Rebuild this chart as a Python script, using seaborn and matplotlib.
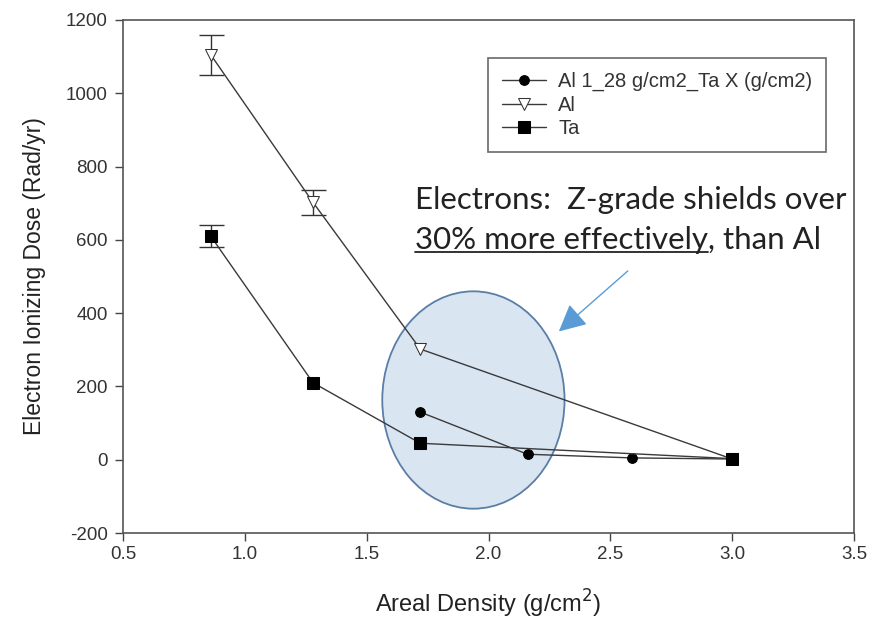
import matplotlib
matplotlib.use("Agg")
import matplotlib.pyplot as plt
import seaborn as sns
import pandas as pd
from matplotlib.patches import Ellipse

# data
mixed_x = [1.72, 2.16, 2.59, 3.0]
mixed_y = [130, 15, 5, 2]
al_x = [0.86, 1.28, 1.72, 3.0]
al_y = [1105, 702, 302, 2]
ta_x = [0.86, 1.28, 1.72, 3.0]
ta_y = [610, 210, 45, 3]
# error bars only shown on the thinnest shields
err_x = [0.86, 1.28, 0.86]
err_y = [1105, 702, 610]
err_v = [55, 35, 30]

sns.set_theme(style="white")
plt.rcParams["font.family"] = ["Liberation Sans", "DejaVu Sans"]
plt.rcParams["axes.unicode_minus"] = False

fig, ax = plt.subplots(figsize=(8.85, 6.22), dpi=100)
fig.subplots_adjust(left=0.139, right=0.965, top=0.968, bottom=0.143)

# ellipse highlight behind the data
ell = Ellipse((1.938, 163), 0.748, 593, facecolor="#dae5f2", edgecolor="#5a7ea6",
              linewidth=1.3, zorder=1)
ax.add_patch(ell)

line_col = "#3a3a3a"
df_mix = pd.DataFrame({"x": mixed_x, "y": mixed_y})
df_al = pd.DataFrame({"x": al_x, "y": al_y})
df_ta = pd.DataFrame({"x": ta_x, "y": ta_y})

sns.lineplot(data=df_mix, x="x", y="y", ax=ax, color=line_col, linewidth=1,
             marker="o", markersize=7, markerfacecolor="black", markeredgecolor="black",
             label="Al 1_28 g/cm2_Ta X (g/cm2)", zorder=3)
sns.lineplot(data=df_al, x="x", y="y", ax=ax, color=line_col, linewidth=1,
             marker="v", markersize=9, markerfacecolor="white", markeredgecolor="#333333",
             label="Al", zorder=3)
sns.lineplot(data=df_ta, x="x", y="y", ax=ax, color=line_col, linewidth=1,
             marker="s", markersize=8, markerfacecolor="black", markeredgecolor="black",
             label="Ta", zorder=3)

ax.errorbar(err_x, err_y, yerr=err_v, fmt="none", ecolor="#333333", elinewidth=1,
            capsize=9, capthick=1, zorder=2)

ax.set_xlim(0.5, 3.5)
ax.set_ylim(-200, 1200)
ax.set_xticks([0.5, 1.0, 1.5, 2.0, 2.5, 3.0, 3.5])
ax.set_xticklabels(["0.5", "1.0", "1.5", "2.0", "2.5", "3.0", "3.5"])
ax.set_yticks(range(-200, 1201, 200))
ax.tick_params(axis="both", direction="out", length=6, width=1, color="#444444",
               labelsize=13.5, labelcolor="#333333", left=True, bottom=True)
ax.tick_params(axis="y", pad=5)
for sp in ax.spines.values():
    sp.set_color("#555555")
    sp.set_linewidth(1.2)

ax.set_xlabel("Areal Density (g/cm$^2$)", fontsize=17, color="#222222", labelpad=18)
ax.set_ylabel("Electron Ionizing Dose (Rad/yr)", fontsize=16.5, color="#222222", labelpad=14)

leg = ax.legend(loc="upper right", bbox_to_anchor=(0.962, 0.926), fontsize=14.5,
                frameon=True, fancybox=False, edgecolor="#444444", handlelength=2.2,
                borderpad=0.7, labelspacing=0.22, handletextpad=0.6, borderaxespad=0)
leg.get_frame().set_linewidth(1.2)
for t in leg.get_texts():
    t.set_color("#333333")

# annotation text with underlined part
ann_font = ["Lato", "DejaVu Sans"]
ann_size = 22.5
ax.text(0.399, 0.649, "Electrons:  Z-grade shields over", transform=ax.transAxes,
        fontsize=ann_size, family=ann_font, color="#222222", va="center")
t1 = ax.text(0.399, 0.571, "30% more effectively", transform=ax.transAxes,
             fontsize=ann_size, family=ann_font, color="#222222", va="center")
fig.canvas.draw()
bb = t1.get_window_extent().transformed(ax.transAxes.inverted())
ax.text(bb.x1, 0.571, ", than Al", transform=ax.transAxes,
        fontsize=ann_size, family=ann_font, color="#222222", va="center")
ax.plot([bb.x0, bb.x1], [bb.y0 + 0.004, bb.y0 + 0.004], transform=ax.transAxes,
        color="#222222", linewidth=1.3)

# arrow pointing at the ellipse
ax.annotate("", xy=(2.28, 345), xytext=(2.58, 520),
            arrowprops=dict(arrowstyle="-|>,head_length=1.4,head_width=0.7",
                            color="#5b9bd5", linewidth=1))

fig.savefig("out.png", dpi=100)
